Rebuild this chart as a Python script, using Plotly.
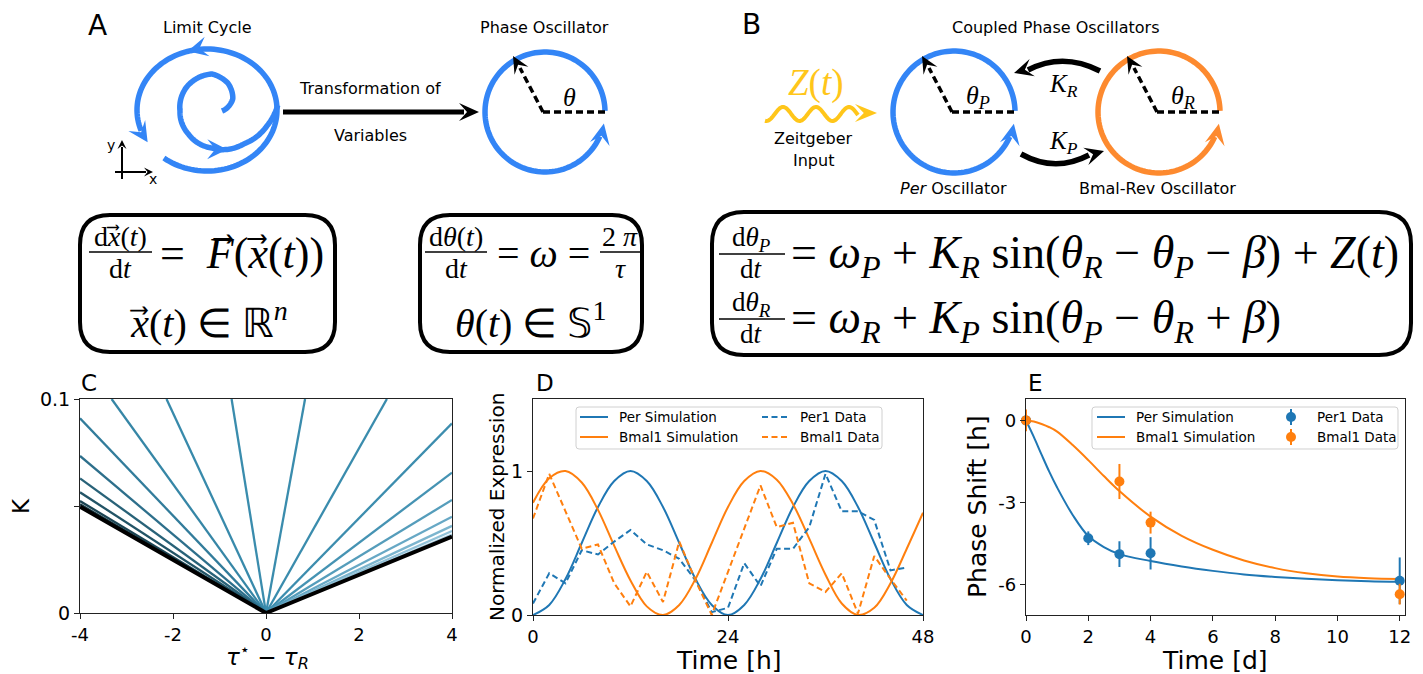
import numpy as np
import plotly.graph_objects as go

# ===================== DATA =====================
# Panel C: branches of the locking boundary K(tau* - tau_R), each from the origin
c_tau_left_end = [-0.74, -2.14, -3.32, -4.0, -4.0, -4.0, -4.0, -4.0, -4.0]
c_K_left_end = [0.1, 0.1, 0.1, 0.0910, 0.0734, 0.0629, 0.0564, 0.0523, 0.0508]
c_tau_right_end = [0.84, 2.60, 4.0, 4.0, 4.0, 4.0, 4.0, 4.0, 4.0]
c_K_right_end = [0.1, 0.1, 0.0886, 0.0656, 0.0528, 0.0450, 0.0407, 0.0383, 0.0366]
c_limit_tau = [-4.0, 0.0, 4.0]
c_limit_K = [0.0497, 0.0, 0.0357]
c_xticks = [-4, -2, 0, 2, 4]
c_xticklabels = ["-4", "-2", "0", "2", "4"]
c_yticks = [0, 0.05, 0.1]
c_yticklabels = ["0", "", "0.1"]

# Panel D: normalized expression over time [h]
d_time_sim = [0, 2, 4, 6, 8, 10, 12, 14, 16, 18, 20, 22, 24,
              26, 28, 30, 32, 34, 36, 38, 40, 42, 44, 46, 48]
d_per_sim = [0.0, 0.07, 0.25, 0.5, 0.75, 0.93, 1.0, 0.93, 0.75, 0.5, 0.25, 0.07, 0.0,
             0.07, 0.25, 0.5, 0.75, 0.93, 1.0, 0.93, 0.75, 0.5, 0.25, 0.07, 0.0]
d_bmal_sim = [0.78, 0.95, 1.0, 0.92, 0.73, 0.48, 0.24, 0.06, 0.0, 0.07, 0.25, 0.5, 0.75,
              0.93, 1.0, 0.94, 0.77, 0.53, 0.28, 0.08, 0.0, 0.05, 0.22, 0.46, 0.71]
d_time_data = [0, 2, 4, 6, 8, 10, 12, 14, 16, 18, 20, 22,
               24, 26, 28, 30, 32, 34, 36, 38, 40, 42, 44, 46]
d_per1_data = [0.08, 0.29, 0.22, 0.45, 0.42, 0.51, 0.59, 0.49, 0.45, 0.39, 0.24, 0.02,
               0.05, 0.36, 0.20, 0.46, 0.46, 0.61, 0.98, 0.72, 0.72, 0.66, 0.31, 0.33]
d_bmal1_data = [0.67, 0.98, 0.72, 0.46, 0.49, 0.22, 0.06, 0.30, 0.09, 0.51, 0.24, 0.0,
                0.30, 0.60, 0.90, 0.61, 0.64, 0.22, 0.16, 0.29, 0.01, 0.41, 0.25, 0.10]
d_xticks = [0, 24, 48]
d_yticks = [0, 1]

# Panel E: phase shift [h] over time [d]
e_time_sim = [0, 0.25, 0.5, 0.75, 1, 1.5, 2, 2.5, 3, 4, 5, 6, 7, 8, 9, 10, 11, 12]
e_per_sim = [0, -0.6, -1.25, -1.88, -2.45, -3.45, -4.22, -4.62, -4.88, -5.13, -5.33,
             -5.49, -5.62, -5.71, -5.78, -5.83, -5.87, -5.89]
e_bmal_sim = [0, -0.04, -0.13, -0.25, -0.41, -0.90, -1.45, -2.03, -2.58, -3.51, -4.21,
              -4.72, -5.11, -5.39, -5.58, -5.70, -5.76, -5.79]
e_per1_day = [0, 2, 3, 4, 12]
e_per1_shift = [0, -4.30, -4.88, -4.85, -5.85]
e_per1_err = [0.3, 0.25, 0.47, 0.59, 0.85]
e_bmal1_day = [0, 3, 4, 12]
e_bmal1_shift = [0, -2.23, -3.73, -6.34]
e_bmal1_err = [0.4, 0.64, 0.40, 0.38]
e_xticks = [0, 2, 4, 6, 8, 10, 12]
e_yticks = [0, -3, -6]
e_yticklabels = ["0", "-3", "-6"]

# ===================== STYLE =====================
W, H = 1423, 674
C0, C1 = "#1f77b4", "#ff7f0e"
BLUE, ORANGE, GOLD = "#3385f6", "#fd8a2f", "#ffc61a"
c_left_colors = ["#3a8cad", "#388aab", "#3686a6", "#327c9b", "#2d6f8b",
                 "#286278", "#225466", "#1b4453", "#143641"]
c_right_colors = ["#3a8cad", "#3a8cad", "#3c8dae", "#4593b3", "#559dbb",
                  "#67a8c5", "#7cb5ce", "#92c2d8", "#a6cde1"]
SANS = "DejaVu Sans"
SERIF = "Liberation Serif"


def X(p):
    return p / W


def Y(p):
    return 1 - p / H


shapes = []
annotations = []


def pstr(points):
    return " L ".join(f"{X(x):.5f},{Y(y):.5f}" for x, y in points)


def poly(points, color, width, dash=None, closed=False, fill=None):
    path = "M " + pstr(points) + (" Z" if closed else "")
    line = dict(color=color, width=width)
    if dash:
        line["dash"] = dash
    shapes.append(dict(type="path", xref="paper", yref="paper", path=path, line=line,
                       fillcolor=fill if fill else "rgba(0,0,0,0)", layer="above"))


def head(tip, direction, color, length=18, width=9):
    dx, dy = direction
    n = (dx * dx + dy * dy) ** 0.5
    dx, dy = dx / n, dy / n
    nx_, ny_ = -dy, dx
    tx, ty = tip
    bx, by = tx - length * dx, ty - length * dy
    cx, cy = tx - 0.6 * length * dx, ty - 0.6 * length * dy
    pts = [(bx + width * nx_, by + width * ny_), (tx, ty),
           (bx - width * nx_, by - width * ny_), (cx, cy)]
    path = "M " + pstr(pts) + " Z"
    shapes.append(dict(type="path", xref="paper", yref="paper", path=path,
                       line=dict(color=color, width=0), fillcolor=color, layer="above"))


def qcurve(p0, c, p1, color, width):
    path = (f"M {X(p0[0]):.5f},{Y(p0[1]):.5f} Q {X(c[0]):.5f},{Y(c[1]):.5f} "
            f"{X(p1[0]):.5f},{Y(p1[1]):.5f}")
    shapes.append(dict(type="path", xref="paper", yref="paper", path=path,
                       line=dict(color=color, width=width), layer="above"))


def seg(x0, y0, x1, y1, color, width, dash=None):
    line = dict(color=color, width=width)
    if dash:
        line["dash"] = dash
    shapes.append(dict(type="line", xref="paper", yref="paper", x0=X(x0), y0=Y(y0),
                       x1=X(x1), y1=Y(y1), line=line, layer="above"))


def text(x, y, s, size, color="black", family=SANS, xanchor="center",
         yanchor="middle", angle=0):
    annotations.append(dict(x=X(x), y=Y(y), xref="paper", yref="paper", text=s,
                            showarrow=False, font=dict(size=size, color=color, family=family),
                            xanchor=xanchor, yanchor=yanchor, textangle=angle, borderpad=0))


def ellipse_pts(cx, cy, rx, ry, a0, a1, n=120):
    a = np.radians(np.linspace(a0, a1, n))
    return [(cx + rx * np.cos(t), cy - ry * np.sin(t)) for t in a]


def rounded_box(x0, y0, x1, y1, r, width=4):
    P = lambda x, y: f"{X(x):.5f},{Y(y):.5f}"
    path = (f"M {P(x0 + r, y0)} L {P(x1 - r, y0)} Q {P(x1, y0)} {P(x1, y0 + r)} "
            f"L {P(x1, y1 - r)} Q {P(x1, y1)} {P(x1 - r, y1)} L {P(x0 + r, y1)} "
            f"Q {P(x0, y1)} {P(x0, y1 - r)} L {P(x0, y0 + r)} Q {P(x0, y0)} {P(x0 + r, y0)} Z")
    shapes.append(dict(type="path", xref="paper", yref="paper", path=path,
                       line=dict(color="black", width=width), layer="above"))


def oscillator(cx, cy, r, color, label):
    poly(ellipse_pts(cx, cy, r, r, 1, 336), color, 5.5)
    a = np.radians(349)
    tip = (cx + r * np.cos(a), cy - r * np.sin(a))
    head(tip, (0.2, -1), color, length=21, width=10)
    seg(cx - 2, cy, cx + r, cy, "black", 3.5, dash="7px,4px")
    seg(cx - 2, cy, cx - 25, cy - 44, "black", 3.5, dash="7px,4px")
    head((cx - 32, cy - 56), (-0.5, -0.87), "black", length=17, width=8)
    text(cx + 24, cy - 15, label, 26, family=SERIF)


# ===================== TOP: PANEL A =====================
text(97, 25, "A", 28)
text(207, 28, "Limit Cycle", 16)
ecx, ecy, erx, ery = 207, 110, 70, 61
poly(ellipse_pts(ecx, ecy, erx, ery, 232, 560), BLUE, 5.5)
a = np.radians(572)
head((ecx + erx * np.cos(a), ecy - ery * np.sin(a)), (0.55, 0.85), BLUE, 20, 10)
a = np.radians(106)
head((ecx + erx * np.cos(a), ecy - ery * np.sin(a)), (-1, 0.25), BLUE, 20, 10)
# inner spiral joining the limit cycle
sp_phi = np.linspace(0, 365, 200)
sp_r = np.interp(sp_phi, [0, 30, 60, 90, 135, 180, 225, 270, 315, 345, 365],
                 [10, 24, 32, 37, 35, 32, 33, 37, 46, 57, 66])
scx, scy = 212, 111
sp = [(scx + r * np.cos(np.radians(p)), scy - r * np.sin(np.radians(p)))
      for p, r in zip(sp_phi, sp_r)]
poly(sp, BLUE, 5.5)
i0, i1 = 152, 159
head(sp[i1], (sp[i1][0] - sp[i0][0], sp[i1][1] - sp[i0][1]), BLUE, 20, 10)
# small coordinate icon
seg(122, 179, 122, 147, "black", 2)
head((122, 140), (0, -1), "black", 9, 4.5)
seg(115, 172, 146, 172, "black", 2)
head((153, 172), (1, 0), "black", 9, 4.5)
text(111, 145, "y", 14)
text(153, 179, "x", 14)
# transformation arrow
seg(283, 112, 464, 112, "black", 5)
head((479, 112), (1, 0), "black", 20, 9)
text(370, 89, "Transformation of", 16)
text(370, 136, "Variables", 16)
# phase oscillator
text(544, 28, "Phase Oscillator", 16)
oscillator(545, 112, 60, BLUE, "<i>θ</i>")

# ===================== TOP: PANEL B =====================
text(751, 24, "B", 28)
text(816, 83, "<i>Z</i>(<i>t</i>)", 37, color=GOLD, family=SERIF)
wx = np.linspace(765, 858, 120)
wy = 114 - 7 * np.cos(2 * np.pi * (wx - 783) / 33)
poly(list(zip(wx, wy)), GOLD, 4)
head((877, 113), (1, 0), GOLD, 22, 9)
text(813, 139, "Zeitgeber", 16)
text(813, 161, "Input", 16)
text(1056, 28, "Coupled Phase Oscillators", 16)
oscillator(954, 112, 61, BLUE, "<i>θ</i><sub><i>P</i></sub>")
oscillator(1159, 112, 61, ORANGE, "<i>θ</i><sub><i>R</i></sub>")
qcurve((1100, 71), (1063, 52), (1028, 70), "black", 5.5)
head((1014, 73), (-1, 0.3), "black", 19, 9)
text(1063, 86, "<i>K</i><sub><i>R</i></sub>", 25, family=SERIF)
qcurve((1021, 154), (1055, 173), (1089, 155), "black", 5.5)
head((1104, 151), (1, -0.3), "black", 19, 9)
text(1063, 142, "<i>K</i><sub><i>P</i></sub>", 25, family=SERIF)
text(953, 189, "<i>Per</i> Oscillator", 16)
text(1157, 189, "Bmal-Rev Oscillator", 16)

# ===================== EQUATION BOXES =====================
EQ = 40
FR = 28


def frac(cx, ybar, x0, x1, num, den, size=FR, gap=16):
    seg(x0, ybar, x1, ybar, "black", 1.5)
    text(cx, ybar - gap, num, size, family=SERIF)
    text(cx, ybar + gap, den, size, family=SERIF)


VX = "<i>x</i>\u20d7"
rounded_box(80, 215, 335, 352, 30)
frac(120, 252, 89, 152, f"d{VX}(<i>t</i>)", "d<i>t</i>")
text(159, 253, f"=\u00a0\u00a0<i>F</i>\u20d7({VX}(<i>t</i>))", 44, family=SERIF, xanchor="left")
text(209, 320, f"{VX}(<i>t</i>) ∈ ℝ<sup><i>n</i></sup>", EQ, family=SERIF)

rounded_box(420, 215, 642, 352, 30)
frac(456, 252, 425, 487, "d<i>θ</i>(<i>t</i>)", "d<i>t</i>")
text(543, 253, "= <i>ω</i> =", EQ, family=SERIF)
frac(620, 252, 600, 640, "2 <i>π</i>", "<i>τ</i>")
text(530, 320, "<i>θ</i>(<i>t</i>) ∈ 𝕊<sup>1</sup>", EQ, family=SERIF)

EQ3 = 46
rounded_box(712, 212, 1411, 355, 32)
frac(751, 254, 719, 785, "d<i>θ</i><sub><i>P</i></sub>", "d<i>t</i>", size=27, gap=15)
text(790, 256, "= <i>ω</i><sub><i>P</i></sub> + <i>K</i><sub><i>R</i></sub> sin(<i>θ</i><sub><i>R</i></sub>"
     " − <i>θ</i><sub><i>P</i></sub> − <i>β</i>) + <i>Z</i>(<i>t</i>)", EQ3, family=SERIF,
     xanchor="left")
frac(751, 319, 719, 785, "d<i>θ</i><sub><i>R</i></sub>", "d<i>t</i>", size=27, gap=15)
text(790, 321, "= <i>ω</i><sub><i>R</i></sub> + <i>K</i><sub><i>P</i></sub> sin(<i>θ</i><sub><i>P</i></sub>"
     " − <i>θ</i><sub><i>R</i></sub> + <i>β</i>)", EQ3, family=SERIF, xanchor="left")

# ===================== FIGURE / BOTTOM PANELS =====================
fig = go.Figure()

# Panel C
for i in range(len(c_K_left_end)):
    fig.add_trace(go.Scatter(x=[c_tau_left_end[i], 0], y=[c_K_left_end[i], 0], mode="lines",
                             line=dict(color=c_left_colors[i], width=2.3),
                             xaxis="x", yaxis="y", showlegend=False, hoverinfo="skip"))
    fig.add_trace(go.Scatter(x=[0, c_tau_right_end[i]], y=[0, c_K_right_end[i]], mode="lines",
                             line=dict(color=c_right_colors[i], width=2.3),
                             xaxis="x", yaxis="y", showlegend=False, hoverinfo="skip"))
fig.add_trace(go.Scatter(x=c_limit_tau, y=c_limit_K, mode="lines",
                         line=dict(color="black", width=4), xaxis="x", yaxis="y",
                         showlegend=False))

# Panel D
fig.add_trace(go.Scatter(x=d_time_sim, y=d_per_sim, mode="lines", name="Per Simulation",
                         line=dict(color=C0, width=2, shape="spline"), xaxis="x2", yaxis="y2"))
fig.add_trace(go.Scatter(x=d_time_sim, y=d_bmal_sim, mode="lines", name="Bmal1 Simulation",
                         line=dict(color=C1, width=2, shape="spline"), xaxis="x2", yaxis="y2"))
fig.add_trace(go.Scatter(x=d_time_data, y=d_per1_data, mode="lines", name="Per1 Data",
                         line=dict(color=C0, width=2, dash="6px,3.5px"), xaxis="x2", yaxis="y2"))
fig.add_trace(go.Scatter(x=d_time_data, y=d_bmal1_data, mode="lines", name="Bmal1 Data",
                         line=dict(color=C1, width=2, dash="6px,3.5px"), xaxis="x2", yaxis="y2"))

# Panel E
fig.add_trace(go.Scatter(x=e_time_sim, y=e_per_sim, mode="lines", name="Per Simulation",
                         line=dict(color=C0, width=2, shape="spline"), xaxis="x3", yaxis="y3"))
fig.add_trace(go.Scatter(x=e_time_sim, y=e_bmal_sim, mode="lines", name="Bmal1 Simulation",
                         line=dict(color=C1, width=2, shape="spline"), xaxis="x3", yaxis="y3"))
fig.add_trace(go.Scatter(x=e_per1_day, y=e_per1_shift, mode="markers", name="Per1 Data",
                         marker=dict(color=C0, size=10),
                         error_y=dict(type="data", array=e_per1_err, color=C0, thickness=2, width=0),
                         xaxis="x3", yaxis="y3", cliponaxis=False))
fig.add_trace(go.Scatter(x=e_bmal1_day, y=e_bmal1_shift, mode="markers", name="Bmal1 Data",
                         marker=dict(color=C1, size=10),
                         error_y=dict(type="data", array=e_bmal1_err, color=C1, thickness=2, width=0),
                         xaxis="x3", yaxis="y3", cliponaxis=False))
fig.update_traces(showlegend=False)


# manual legends
def legend_box(x0, y0, x1, y1):
    P = lambda x, y: f"{X(x):.5f},{Y(y):.5f}"
    r = 3
    path = (f"M {P(x0 + r, y0)} L {P(x1 - r, y0)} Q {P(x1, y0)} {P(x1, y0 + r)} "
            f"L {P(x1, y1 - r)} Q {P(x1, y1)} {P(x1 - r, y1)} L {P(x0 + r, y1)} "
            f"Q {P(x0, y1)} {P(x0, y1 - r)} L {P(x0, y0 + r)} Q {P(x0, y0)} {P(x0 + r, y0)} Z")
    shapes.append(dict(type="path", xref="paper", yref="paper", path=path,
                       line=dict(color="#d0d0d0", width=1), fillcolor="rgba(255,255,255,0.85)",
                       layer="above"))


LEG = 13.5
legend_box(576, 407, 882, 449)
seg(580, 417, 608, 417, C0, 2)
seg(580, 437, 608, 437, C1, 2)
seg(762, 417, 790, 417, C0, 2, dash="6px,3.5px")
seg(762, 437, 790, 437, C1, 2, dash="6px,3.5px")
text(618, 417, "Per Simulation", LEG, xanchor="left")
text(618, 437, "Bmal1 Simulation", LEG, xanchor="left")
text(799, 417, "Per1 Data", LEG, xanchor="left")
text(799, 437, "Bmal1 Data", LEG, xanchor="left")

legend_box(1092, 407, 1398, 449)
seg(1097, 417, 1125, 417, C0, 2)
seg(1097, 437, 1125, 437, C1, 2)
for yy, col in ((417, C0), (437, C1)):
    seg(1291, yy - 8, 1291, yy + 8, col, 2)
    shapes.append(dict(type="circle", xref="paper", yref="paper", x0=X(1286), x1=X(1296),
                       y0=Y(yy + 5), y1=Y(yy - 5), fillcolor=col, line=dict(color=col, width=0),
                       layer="above"))
text(1135, 417, "Per Simulation", LEG, xanchor="left")
text(1135, 437, "Bmal1 Simulation", LEG, xanchor="left")
text(1316, 417, "Per1 Data", LEG, xanchor="left")
text(1316, 437, "Bmal1 Data", LEG, xanchor="left")

# panel letters & axis titles
text(80, 383, "C", 23, xanchor="left")
text(535, 383, "D", 23, xanchor="left")
text(1027, 383, "E", 23, xanchor="left")
text(21, 506, "K", 23, angle=-90)
text(267, 674, "<i>τ</i><sup>⋆</sup> − <i>τ</i><sub><i>R</i></sub>", 23, yanchor="bottom")
text(497, 507, "Normalized Expression", 20, angle=-90)
text(728, 660, "Time [h]", 25)
text(977, 507, "Phase Shift [h]", 25, angle=-90)
text(1215, 660, "Time [d]", 25)

axis_common = dict(showline=True, mirror=True, linecolor="#222", linewidth=1.2,
                   ticks="outside", ticklen=5, tickwidth=1.2, tickcolor="#222",
                   showgrid=False, zeroline=False, fixedrange=True, automargin=False)

fig.update_layout(
    width=W, height=H, margin=dict(l=0, r=0, t=0, b=0, autoexpand=False),
    paper_bgcolor="white", plot_bgcolor="white", showlegend=False,
    font=dict(family=SANS, color="black"),
    xaxis=dict(domain=[X(80), X(452)], range=[-4, 4], tickvals=c_xticks, ticktext=c_xticklabels,
               tickfont=dict(size=18), anchor="y", **axis_common),
    yaxis=dict(domain=[Y(613), Y(399)], range=[0, 0.1], tickvals=c_yticks, ticktext=c_yticklabels,
               tickfont=dict(size=19), anchor="x", **axis_common),
    xaxis2=dict(domain=[X(533), X(923)], range=[0, 48], tickvals=d_xticks,
                tickfont=dict(size=18), anchor="y2", **axis_common),
    yaxis2=dict(domain=[Y(615), Y(399)], range=[0, 1.5], tickvals=d_yticks,
                tickfont=dict(size=19), anchor="x2", **axis_common),
    xaxis3=dict(domain=[X(1026), X(1405)], range=[0, 12.17], tickvals=e_xticks,
                tickfont=dict(size=18), anchor="y3", **axis_common),
    yaxis3=dict(domain=[Y(615), Y(399)], range=[-7.1, 0.78], tickvals=e_yticks,
                ticktext=e_yticklabels, tickfont=dict(size=18), anchor="x3", **axis_common),
    shapes=shapes, annotations=annotations,
)

fig.write_html("out.html", config={"displayModeBar": False},
               post_script="document.body.style.margin='0px';document.body.style.overflow='hidden';")
